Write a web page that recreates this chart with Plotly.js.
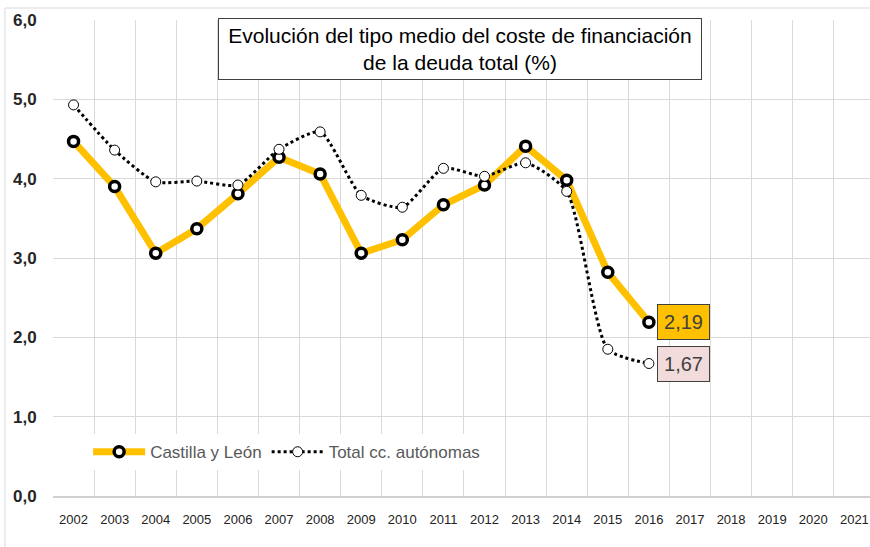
<!DOCTYPE html>
<html>
<head>
<meta charset="utf-8">
<script src="https://cdn.plot.ly/plotly-3.0.1.min.js"></script>
<style>
html,body{margin:0;padding:0;background:#fff;overflow:hidden;}
#chart{width:870px;height:547px;}
</style>
</head>
<body>
<div id="chart"></div>
<script>
// Data
var years = ["2002","2003","2004","2005","2006","2007","2008","2009","2010","2011","2012","2013","2014","2015","2016","2017","2018","2019","2020","2021"];
var castillaLeon = [4.47, 3.90, 3.06, 3.37, 3.81, 4.27, 4.06, 3.06, 3.23, 3.67, 3.92, 4.41, 3.98, 2.82, 2.19];
var totalCCAA = [4.93, 4.36, 3.96, 3.97, 3.92, 4.37, 4.59, 3.79, 3.64, 4.13, 4.03, 4.20, 3.84, 1.85, 1.67];
var seriesNames = ["Castilla y León", "Total cc. autónomas"];
var yTicks = [0, 1, 2, 3, 4, 5, 6];
var titleText = "Evolución del tipo medio del coste de financiación<br>de la deuda total (%)";

function fmt(v){ return v.toFixed(2).replace('.', ','); }

var font = "Liberation Sans, Arial, sans-serif";

var traces = [
  {
    x: years, y: years.map(function(){ return null; }),
    type: 'scatter', mode: 'lines', showlegend: false, hoverinfo: 'skip'
  },
  {
    x: years.slice(0, castillaLeon.length), y: castillaLeon,
    name: seriesNames[0], type: 'scatter', mode: 'lines+markers',
    line: {color: '#FFC000', width: 7},
    marker: {symbol: 'circle', size: 10, color: '#ffffff', line: {color: '#000000', width: 3.5}}
  },
  {
    x: years.slice(0, totalCCAA.length), y: totalCCAA,
    name: seriesNames[1], type: 'scatter', mode: 'lines+markers',
    line: {color: '#000000', width: 3, dash: 'dot', shape: 'spline', smoothing: 0.6},
    marker: {symbol: 'circle', size: 10, color: '#ffffff', line: {color: '#000000', width: 1}}
  }
];

var lastIdx = castillaLeon.length - 1;

var layout = {
  width: 870, height: 547,
  margin: {l: 53, r: 0, t: 20, b: 51, pad: 0},
  paper_bgcolor: '#ffffff', plot_bgcolor: '#ffffff',
  separators: ',.',
  showlegend: true,
  font: {family: font, color: '#404040'},
  xaxis: {
    type: 'category', categoryorder: 'array', categoryarray: years,
    range: [-0.5, 19.38], tickson: 'boundaries',
    showgrid: true, gridcolor: '#d9d9d9', gridwidth: 1,
    showline: true, linecolor: '#d0d0d0', linewidth: 2,
    ticks: '', ticklabelstandoff: 10,
    tickfont: {family: font, size: 13, color: '#222222'},
    zeroline: false, fixedrange: true
  },
  yaxis: {
    range: [0, 6], tickvals: yTicks, tickformat: '.1f',
    showgrid: true, gridcolor: '#d9d9d9', gridwidth: 1,
    showline: false, zeroline: false,
    ticks: 'outside', ticklen: 12, tickcolor: 'rgba(0,0,0,0)',
    tickfont: {family: font, size: 17, color: '#262626', weight: 'bold'},
    fixedrange: true
  },
  legend: {
    orientation: 'h', x: 0.043, xanchor: 'left', y: 0.092, yanchor: 'middle',
    bgcolor: '#ffffff', font: {family: font, size: 17, color: '#595959'},
    itemwidth: 52, traceorder: 'normal'
  },
  shapes: [
    {type: 'rect', xref: 'paper', yref: 'paper', x0: -0.0588, x1: 1.2, y0: -0.3, y1: 1.0252,
     line: {color: '#d9d9d9', width: 1}, fillcolor: 'rgba(0,0,0,0)', layer: 'below'}
  ],
  annotations: [
    {xref: 'paper', yref: 'paper', x: 0.498, y: 0.939, xanchor: 'center', yanchor: 'middle',
     text: titleText, showarrow: false, align: 'center',
     font: {family: font, size: 21, color: '#000000'},
     bgcolor: '#ffffff', bordercolor: '#404040', borderwidth: 1, borderpad: 3,
     width: 476, height: 54},
    {x: lastIdx, y: castillaLeon[lastIdx], xref: 'x', yref: 'y',
     text: fmt(castillaLeon[lastIdx]), showarrow: false, xanchor: 'left', yanchor: 'middle', xshift: 8,
     font: {family: font, size: 20, color: '#404040'},
     bgcolor: '#FFC000', bordercolor: '#404040', borderwidth: 1, borderpad: 3, width: 45, height: 28},
    {x: lastIdx, y: totalCCAA[lastIdx], xref: 'x', yref: 'y',
     text: fmt(totalCCAA[lastIdx]), showarrow: false, xanchor: 'left', yanchor: 'middle', xshift: 8,
     font: {family: font, size: 20, color: '#404040'},
     bgcolor: '#F2DCDB', bordercolor: '#404040', borderwidth: 1, borderpad: 3, width: 45, height: 28}
  ]
};

Plotly.newPlot('chart', traces, layout, {displayModeBar: false, staticPlot: true});
</script>
</body>
</html>
